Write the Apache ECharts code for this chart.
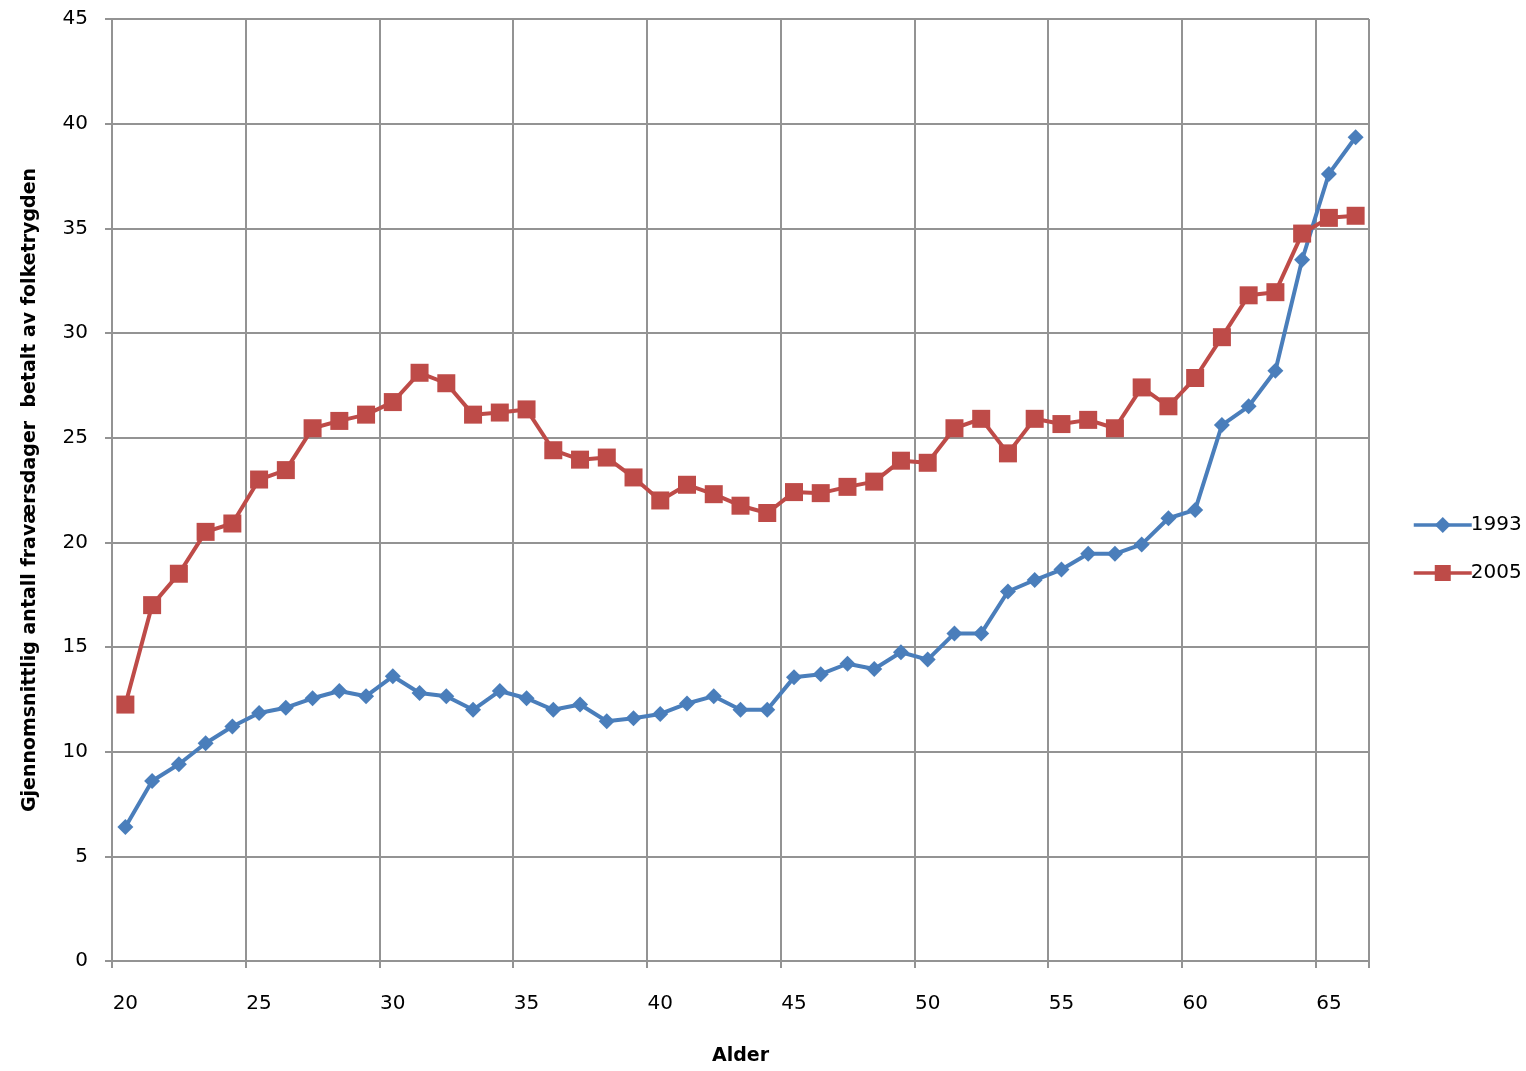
<!DOCTYPE html>
<html><head><meta charset="utf-8">
<script src="https://cdn.jsdelivr.net/npm/echarts@6/dist/echarts.min.js"></script>
<style>html,body{margin:0;padding:0;background:#fff}#c{width:1526px;height:1071px}</style>
</head><body><div id="c"></div>
<script>
const ages = [];
for (let a = 20; a <= 66; a++) ages.push(String(a));
const s1993 = [6.4,8.6,9.4,10.4,11.2,11.85,12.1,12.55,12.9,12.65,13.6,12.8,12.65,12.0,12.9,12.55,12.0,12.25,11.45,11.6,11.8,12.3,12.65,12.0,12.0,13.55,13.7,14.2,13.95,14.75,14.4,15.65,15.65,17.65,18.2,18.7,19.45,19.45,19.9,21.15,21.55,25.6,26.5,28.2,33.5,37.6,39.35];
const s2005 = [12.25,17.0,18.5,20.5,20.9,23.0,23.45,25.45,25.8,26.1,26.7,28.1,27.6,26.1,26.2,26.35,24.4,23.95,24.05,23.1,22.0,22.75,22.3,21.75,21.4,22.4,22.35,22.65,22.9,23.9,23.8,25.45,25.9,24.25,25.9,25.65,25.85,25.45,27.4,26.5,27.85,29.8,31.8,31.95,34.75,35.5,35.6];
const yTicks = [0,5,10,15,20,25,30,35,40,45];

const chart = echarts.init(document.getElementById('c'), null, {renderer:'canvas'});
const grid = '#939393';
chart.setOption({
  animation:false,
  backgroundColor:'#fff',
  grid:{left:112, top:19, width:1257, height:945, containLabel:false},
  legend:{
    orient:'vertical', left:1407, top:510, itemWidth:58, itemHeight:20, itemGap:28,
    lineStyle:{width:3.5},
    textStyle:{fontFamily:'DejaVu Sans', fontSize:20, lineHeight:20, color:'#000', padding:[0,0,0,-6]},
    data:['1993','2005']
  },
  xAxis:{
    type:'category', data:ages, boundaryGap:true,
    name:'Alder', nameLocation:'middle', nameGap:86,
    nameTextStyle:{fontFamily:'DejaVu Sans', fontWeight:'bold', fontSize:19, color:'#000', verticalAlign:'top'},
    axisLine:{lineStyle:{color:grid, width:2}},
    axisTick:{show:true, interval:4, length:7, lineStyle:{color:grid, width:2}},
    axisLabel:{interval:4, margin:33, fontFamily:'DejaVu Sans', fontSize:20, color:'#000'},
    splitLine:{show:true, interval:4, lineStyle:{color:grid, width:2}}
  },
  yAxis:{
    type:'value', min:0, max:45, interval:5,
    name:'Gjennomsnittlig antall fraværsdager  betalt av folketrygden', nameLocation:'middle', nameGap:72, nameRotate:90,
    nameTextStyle:{fontFamily:'DejaVu Sans', fontWeight:'bold', fontSize:19, color:'#000'},
    axisLine:{show:true, lineStyle:{color:grid, width:2}},
    axisTick:{show:true, length:7, lineStyle:{color:grid, width:2}},
    axisLabel:{margin:24, fontFamily:'DejaVu Sans', fontSize:20, color:'#000',
      formatter:function(v){return yTicks.indexOf(v)>=0 ? String(v) : '';}},
    splitLine:{show:true, lineStyle:{color:grid, width:2}}
  },
  series:[
    {name:'1993', type:'line', data:s1993, symbol:'diamond', symbolSize:16, showAllSymbol:true,
     itemStyle:{color:'#4A7EBB'}, lineStyle:{color:'#4A7EBB', width:4}},
    {name:'2005', type:'line', data:s2005, symbol:'rect', symbolSize:18, showAllSymbol:true,
     itemStyle:{color:'#BE4B48'}, lineStyle:{color:'#BE4B48', width:4}}
  ]
});
</script></body></html>
